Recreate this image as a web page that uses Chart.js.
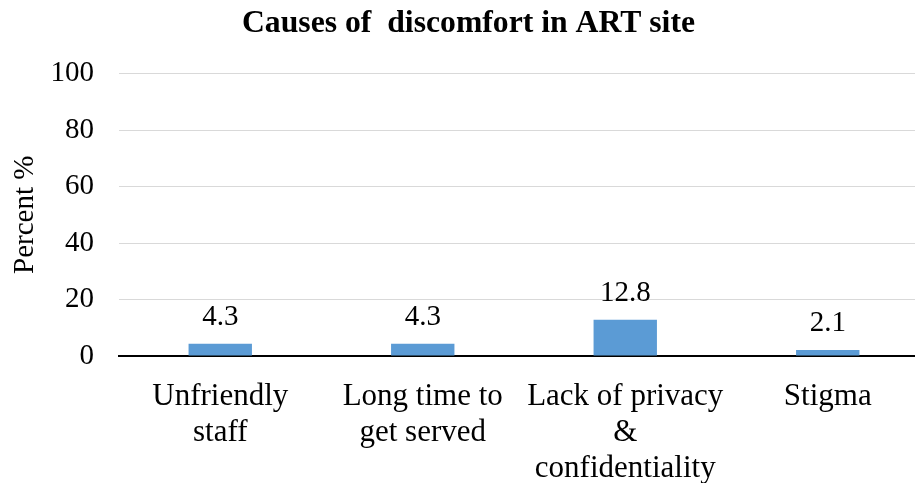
<!DOCTYPE html>
<html>
<head>
<meta charset="utf-8">
<script src="https://cdn.jsdelivr.net/npm/chart.js@4.4.1/dist/chart.umd.min.js"></script>
<style>
  html, body { margin: 0; padding: 0; background: #fff; overflow: hidden; }
  #wrap { position: absolute; left: 0; top: 0; width: 930px; height: 483px; }
</style>
</head>
<body>
<div id="wrap"><canvas id="c"></canvas></div>
<script>
const chartTitle = "Causes of  discomfort in ART site";
const yAxisTitle = "Percent %";
const categories = [
  ["Unfriendly", "staff"],
  ["Long time to", "get served"],
  ["Lack of privacy", "&", "confidentiality"],
  ["Stigma"]
];
const percentValues = [4.3, 4.3, 12.8, 2.1];
const yTickValues = [0, 20, 40, 60, 80, 100];

const FONT = "'Liberation Serif', 'Times New Roman', serif";

const valueLabels = {
  id: 'valueLabels',
  afterDatasetsDraw(chart) {
    const ctx = chart.ctx;
    const meta = chart.getDatasetMeta(0);
    ctx.save();
    ctx.font = "29px " + FONT;
    ctx.fillStyle = "#000";
    ctx.textAlign = "center";
    ctx.textBaseline = "alphabetic";
    meta.data.forEach((bar, i) => {
      ctx.fillText(String(percentValues[i]), bar.x, bar.y - 19);
    });
    ctx.restore();
  }
};

new Chart(document.getElementById('c'), {
  type: 'bar',
  data: {
    labels: categories,
    datasets: [{
      data: percentValues,
      backgroundColor: '#5B9BD5',
      borderWidth: 0,
      barPercentage: 0.313,
      categoryPercentage: 1.0
    }]
  },
  options: {
    responsive: true,
    maintainAspectRatio: false,
    devicePixelRatio: 1,
    animation: false,
    layout: { padding: { left: 8, right: 1, top: 0, bottom: 0 } },
    plugins: {
      legend: { display: false },
      tooltip: { enabled: false },
      title: {
        display: true,
        text: chartTitle,
        color: '#000',
        font: { family: FONT, size: 31.7, weight: 'bold', lineHeight: 1.2 },
        padding: { top: 4.5, bottom: 31.1 }
      }
    },
    scales: {
      x: {
        grid: { display: false, drawTicks: false },
        border: { display: true, color: '#000', width: 2 },
        ticks: {
          color: '#000',
          font: { family: FONT, size: 31, lineHeight: 1.155 },
          padding: 23,
          maxRotation: 0,
          autoSkip: false
        },
        afterFit(scale) { scale.height = 127; }
      },
      y: {
        min: 0,
        max: 100,
        afterBuildTicks(scale) { scale.ticks = yTickValues.map(v => ({ value: v })); },
        grid: {
          drawTicks: false,
          color: (c) => (c.tick && c.tick.value === 0) ? 'rgba(0,0,0,0)' : '#D9D9D9',
          lineWidth: 1
        },
        border: { display: false },
        ticks: {
          color: '#000',
          font: { family: FONT, size: 29 },
          padding: 25
        },
        title: {
          display: true,
          text: yAxisTitle,
          color: '#000',
          font: { family: FONT, size: 29 },
          padding: 0
        },
        afterFit(scale) { scale.width = 111; }
      }
    }
  },
  plugins: [valueLabels]
});
</script>
</body>
</html>
